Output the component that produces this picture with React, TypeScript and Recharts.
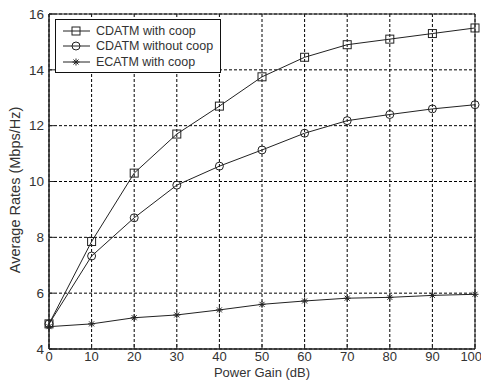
import React from 'react';
import {
  LineChart,
  Line,
  XAxis,
  YAxis,
  CartesianGrid,
  ReferenceArea,
  Legend,
} from 'recharts';

// Power gain (dB) along the x axis
const powerGain = [0, 10, 20, 30, 40, 50, 60, 70, 80, 90, 100];

// Average rates
const cdatmCoop = [4.9, 7.85, 10.3, 11.7, 12.7, 13.75, 14.45, 14.9, 15.1, 15.3, 15.5];
const cdatmNoCoop = [4.9, 7.33, 8.7, 9.87, 10.55, 11.13, 11.73, 12.18, 12.4, 12.6, 12.75];
const ecatmCoop = [4.8, 4.9, 5.12, 5.22, 5.4, 5.6, 5.72, 5.82, 5.85, 5.92, 5.96];

const xTicks = [0, 10, 20, 30, 40, 50, 60, 70, 80, 90, 100];
const yTicks = [4, 6, 8, 10, 12, 14, 16];

const data = powerGain.map((x, i) => ({
  x,
  coop: cdatmCoop[i],
  noCoop: cdatmNoCoop[i],
  ecatm: ecatmCoop[i],
}));

const LINE = '#222';
const TEXT = '#333';
const FONT = '"Liberation Sans", Arial, sans-serif';

// Marker shapes (MATLAB style, open)
const SquareDot = ({ cx, cy }: any) => (
  <rect x={cx - 4} y={cy - 4} width={8} height={8} fill="none" stroke={LINE} strokeWidth={1} />
);
const CircleDot = ({ cx, cy }: any) => (
  <circle cx={cx} cy={cy} r={4} fill="none" stroke={LINE} strokeWidth={1} />
);
const StarDot = ({ cx, cy }: any) => {
  const r = 3.5;
  const d = 2.5;
  return (
    <g stroke={LINE} strokeWidth={1}>
      <line x1={cx - r} y1={cy} x2={cx + r} y2={cy} />
      <line x1={cx} y1={cy - r} x2={cx} y2={cy + r} />
      <line x1={cx - d} y1={cy - d} x2={cx + d} y2={cy + d} />
      <line x1={cx - d} y1={cy + d} x2={cx + d} y2={cy - d} />
    </g>
  );
};

const series = [
  { key: 'coop', name: 'CDATM with coop', Dot: SquareDot },
  { key: 'noCoop', name: 'CDATM without coop', Dot: CircleDot },
  { key: 'ecatm', name: 'ECATM with coop', Dot: StarDot },
];

const LegendBox = () => (
  <div
    style={{
      border: '1px solid #111',
      background: '#fff',
      width: 164,
      padding: '3px 0 2px 0',
      fontFamily: FONT,
      fontSize: 12.5,
      color: TEXT,
    }}
  >
    {series.map(({ key, name, Dot }) => (
      <div key={key} style={{ display: 'flex', alignItems: 'center', height: 15.5 }}>
        <svg width={36} height={14} style={{ marginLeft: 4 }}>
          <line x1={3} y1={7} x2={30} y2={7} stroke={LINE} strokeWidth={1} />
          <Dot cx={16} cy={7} />
        </svg>
        <span>{name}</span>
      </div>
    ))}
  </div>
);

// rotated y-axis title, a bit below the plot centre as in the figure
const YTitle = () => (
  <text
    x={15}
    y={190}
    transform="rotate(-90 15 190)"
    textAnchor="middle"
    dominantBaseline="central"
    fill={TEXT}
    fontSize={14.5}
    fontFamily={FONT}
  >
    Average Rates (Mbps/Hz)
  </text>
);

export default function App() {
  return (
    <div style={{ position: 'absolute', left: 0, top: 0, background: '#fff' }}>
      <LineChart
        width={481}
        height={380}
        data={data}
        margin={{ top: 14, right: 6, bottom: 0, left: 0 }}
      >
        <CartesianGrid stroke="#000" strokeDasharray="3 2" strokeWidth={1} />
        <XAxis
          dataKey="x"
          type="number"
          domain={[0, 100]}
          ticks={xTicks}
          height={31}
          tickSize={-5}
          tickMargin={8}
          axisLine={{ stroke: LINE }}
          tickLine={{ stroke: LINE }}
          tick={{ fill: TEXT, fontSize: 13, fontFamily: FONT }}
          label={{
            value: 'Power Gain (dB)',
            position: 'insideBottom',
            offset: 3,
            fill: TEXT,
            fontSize: 13,
            fontFamily: FONT,
          }}
        />
        <XAxis
          xAxisId="top"
          dataKey="x"
          type="number"
          orientation="top"
          domain={[0, 100]}
          ticks={xTicks}
          height={0}
          tickSize={-5}
          tickFormatter={() => ''}
          axisLine={{ stroke: LINE }}
          tickLine={{ stroke: LINE }}
        />
        <YAxis
          type="number"
          domain={[4, 16]}
          ticks={yTicks}
          width={49}
          tickSize={-5}
          tickMargin={10}
          axisLine={{ stroke: LINE }}
          tickLine={{ stroke: LINE }}
          tick={{ fill: TEXT, fontSize: 13.5, fontFamily: FONT }}
          label={<YTitle />}
        />
        <YAxis
          yAxisId="right"
          orientation="right"
          type="number"
          domain={[4, 16]}
          ticks={yTicks}
          width={0}
          tickSize={-5}
          tickFormatter={() => ''}
          axisLine={{ stroke: LINE }}
          tickLine={{ stroke: LINE }}
        />
        <ReferenceArea x1={0} x2={100} y1={4} y2={16} fill="none" stroke={LINE} strokeWidth={1} />
        <Legend
          layout="horizontal"
          verticalAlign="middle"
          align="center"
          content={<LegendBox />}
          wrapperStyle={{ left: 55, top: 19, width: 'auto' }}
        />
        {series.map(({ key, name, Dot }) => (
          <Line
            key={key}
            dataKey={key}
            name={name}
            type="linear"
            stroke={LINE}
            strokeWidth={1}
            dot={(p: any) => <Dot key={`${key}-${p.index}`} cx={p.cx} cy={p.cy} />}
            activeDot={false}
            isAnimationActive={false}
          />
        ))}
      </LineChart>
    </div>
  );
}
